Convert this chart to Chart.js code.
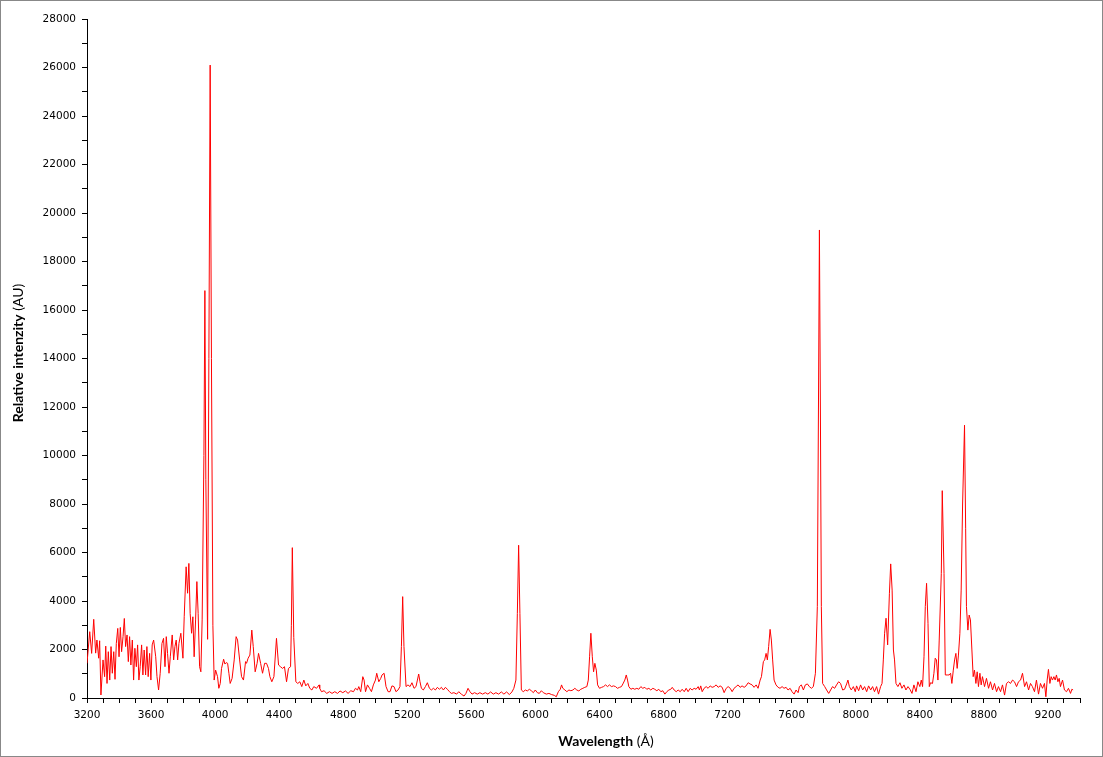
<!DOCTYPE html>
<html>
<head>
<meta charset="utf-8">
<script src="https://cdn.jsdelivr.net/npm/chart.js@4.4.1/dist/chart.umd.min.js"></script>
<style>
  body { margin: 0; background: #fff; }
  #moldura { width: 1103px; height: 757px; box-sizing: border-box; border: 1px solid #888; }
  canvas { display: block; }
</style>
</head>
<body>
<div id="moldura"><canvas id="grafico" width="1101" height="755"></canvas></div>
<script>
const comprimentos = [
  3200,3217,3229,3242,3254,3262,3273,3279,3287,3300,3310,3317,3325,3333,3342,3350,3358,3367,3375,3383,
  3392,3400,3408,3416,3425,3433,3441,3450,3458,3466,3474,3483,3491,3499,3508,3516,3524,3532,3541,3549,
  3557,3566,3574,3582,3591,3599,3607,3616,3629,3637,3647,3657,3668,3678,3687,3695,3703,3712,3720,3732,
  3741,3749,3757,3766,3774,3786,3799,3807,3819,3828,3836,3844,3853,3861,3869,3878,3886,3894,3903,3911,
  3919,3930,3936,3942,3953,3961,3969,3977,3986,3994,4003,4015,4023,4032,4040,4053,4061,4069,4078,4086,
  4094,4106,4119,4131,4140,4153,4165,4177,4190,4196,4206,4217,4229,4238,4250,4262,4271,4284,4296,4309,
  4321,4333,4342,4354,4367,4383,4396,4408,4421,4433,4446,4458,4471,4476,4482,4491,4504,4516,4529,4541,
  4554,4566,4579,4591,4604,4616,4633,4649,4653,4664,4680,4697,4714,4730,4747,4764,4780,4797,4814,4830,
  4847,4864,4876,4889,4897,4909,4922,4930,4939,4951,4964,4976,4988,5001,5009,5022,5034,5042,5055,5067,
  5080,5092,5104,5117,5129,5142,5154,5163,5171,5179,5192,5204,5217,5229,5242,5254,5263,5271,5279,5288,
  5300,5313,5325,5338,5350,5363,5375,5388,5400,5413,5425,5438,5450,5463,5475,5491,5508,5521,5537,5554,
  5566,5579,5591,5604,5620,5637,5653,5670,5687,5703,5720,5737,5753,5770,5787,5803,5820,5837,5853,5865,
  5878,5887,5895,5903,5912,5924,5937,5949,5962,5974,5987,5999,6012,6024,6037,6049,6068,6084,6101,6118,
  6130,6143,6155,6163,6171,6184,6196,6209,6221,6234,6246,6258,6271,6283,6296,6308,6321,6330,6338,6346,
  6355,6363,6371,6380,6388,6400,6413,6425,6438,6450,6462,6475,6487,6500,6512,6525,6537,6546,6558,6567,
  6575,6583,6596,6608,6620,6633,6645,6658,6670,6683,6695,6708,6720,6733,6745,6758,6770,6783,6795,6808,
  6820,6833,6845,6854,6866,6879,6891,6904,6916,6929,6941,6953,6966,6978,6991,7003,7016,7024,7032,7041,
  7053,7066,7078,7091,7103,7116,7128,7141,7153,7166,7178,7191,7203,7216,7228,7240,7253,7265,7278,7290,
  7303,7315,7328,7340,7353,7365,7378,7390,7403,7411,7423,7431,7440,7448,7456,7465,7473,7481,7490,7502,
  7515,7527,7540,7552,7565,7577,7590,7602,7615,7627,7640,7648,7660,7673,7685,7698,7710,7723,7735,7748,
  7760,7767,7773,7779,7785,7793,7806,7818,7831,7843,7855,7868,7880,7893,7905,7918,7930,7943,7951,7960,
  7972,7985,7997,8005,8018,8030,8043,8055,8068,8080,8093,8105,8117,8130,8142,8155,8164,8172,8180,8189,
  8199,8210,8218,8227,8235,8242,8251,8263,8276,8288,8301,8313,8326,8338,8351,8363,8376,8388,8400,8409,
  8417,8426,8434,8442,8451,8459,8467,8479,8488,8496,8504,8513,8521,8534,8540,8551,8559,8571,8583,8592,
  8600,8609,8617,8625,8633,8641,8650,8658,8667,8679,8686,8691,8700,8708,8716,8725,8733,8741,8750,8758,
  8766,8775,8783,8791,8804,8816,8829,8841,8854,8866,8879,8891,8904,8916,8929,8941,8954,8966,8979,8991,
  9004,9016,9029,9041,9054,9066,9079,9091,9103,9116,9128,9141,9153,9166,9178,9187,9195,9203,9212,9220,
  9228,9237,9245,9253,9262,9270,9278,9291,9303,9316,9328,9341,9349,9357
];

// Intensidade relativa (AU) para cada comprimento de onda
const intensidades = [
  1430,2735,1840,3245,1850,2390,1640,2360,124,1570,880,2140,600,1910,740,2120,1020,1910,770,2250,
  2870,1700,2910,1910,2530,3280,2120,2600,1500,2530,1360,2390,740,2050,1290,2190,740,1290,2190,950,
  1980,950,2120,880,1840,740,2190,2390,1700,880,330,1020,2250,2460,1290,2530,1840,1020,1700,2600,
  1570,2120,2390,1570,2250,2670,1640,3350,5410,4320,5550,3490,2670,3350,1700,3220,4800,3490,1290,1080,
  3220,10000,16800,9000,2420,14000,26100,14000,3000,740,1150,880,400,600,1220,1600,1400,1460,1430,1020,
  600,810,1570,2530,2390,1570,880,740,1500,1430,1640,1770,2800,2120,1080,1430,1840,1430,1020,1430,
  1430,1220,880,670,880,2460,1360,1290,1220,1290,670,1220,1290,3000,6200,2500,670,600,670,470,
  740,500,600,400,330,470,400,540,400,260,300,190,260,190,260,190,290,220,290,190,
  300,260,400,330,470,260,880,740,260,540,400,260,540,740,1020,670,810,950,1020,470,
  260,260,500,470,260,330,470,2120,4180,2120,470,540,470,630,400,470,740,990,670,400,
  330,470,630,400,330,400,330,440,360,440,330,440,360,260,190,220,160,260,160,80,
  190,400,260,160,220,160,220,160,220,160,250,160,220,160,250,160,250,140,250,400,
  740,3490,6300,3490,330,260,330,290,360,300,220,330,220,190,300,220,160,190,140,110,
  50,260,360,540,400,330,260,330,300,330,400,330,290,360,400,440,470,740,1700,2670,
  1700,1080,1430,1150,540,400,440,470,540,470,540,470,500,470,400,440,470,580,740,950,
  740,470,360,400,360,400,360,470,400,440,360,400,330,400,360,300,360,260,300,160,
  260,330,360,440,330,260,330,260,360,260,400,260,400,330,400,360,470,330,500,260,
  400,470,400,500,440,470,540,440,500,440,220,400,470,400,260,400,470,540,440,500,
  440,500,630,580,540,440,540,400,740,880,1500,1570,1840,1570,2120,2830,2390,1570,740,540,
  440,400,470,400,440,330,400,260,160,330,220,470,540,330,540,580,470,400,470,1020,
  3770,12000,19300,12000,3770,600,470,330,190,330,470,400,540,670,600,330,360,580,740,470,
  330,470,260,500,300,540,330,470,260,500,330,470,260,470,160,470,600,1570,2670,3290,
  2190,4320,5530,4450,1980,1570,600,470,630,400,540,330,470,360,190,540,260,670,470,740,
  470,1700,3770,4730,3080,470,630,600,1020,1640,1570,740,2390,5140,8550,5140,950,950,950,1020,
  600,1150,1570,1840,1220,1770,2670,4450,8000,11250,7000,3770,2800,3420,3220,1980,880,1150,600,1080,
  470,1020,540,880,470,810,400,670,330,600,260,470,260,540,120,600,670,600,740,670,
  470,670,740,1020,470,670,330,600,470,260,740,160,600,400,600,50,740,1180,600,880,
  740,880,740,950,670,810,470,740,330,260,400,190,360,330
];

// Limites e rótulos dos eixos
const eixoX = { min: 3200, max: 9400, menor: 100, maior: 400 };
const eixoY = { min: 0, max: 28000, menor: 1000, maior: 2000 };
const tituloX = ['Wavelength', ' (Å)'];
const tituloY = ['Relative intenzity', ' (AU)'];

const pontos = comprimentos.map((c, i) => ({ x: c, y: intensidades[i] }));

// Escreve um título com parte em negrito e parte normal, centrado em (cx, cy)
function escreverTitulo(ctx, partes, cx, cy) {
  ctx.font = 'bold 14px Lato';
  const w1 = ctx.measureText(partes[0]).width;
  ctx.font = '14px Lato';
  const w2 = ctx.measureText(partes[1]).width;
  const x = cx - (w1 + w2) / 2;
  ctx.textAlign = 'left';
  ctx.textBaseline = 'middle';
  ctx.font = 'bold 14px Lato';
  ctx.fillText(partes[0], x, cy);
  ctx.font = '14px Lato';
  ctx.fillText(partes[1], x + w1, cy);
}

// Plugin para os títulos dos eixos
const titulosEixos = {
  id: 'titulosEixos',
  afterDraw(chart) {
    const ctx = chart.ctx;
    ctx.save();
    ctx.fillStyle = '#000';
    escreverTitulo(ctx, tituloX, 605, 740);
    ctx.translate(17, 352);
    ctx.rotate(-Math.PI / 2);
    escreverTitulo(ctx, tituloY, 0, 0);
    ctx.restore();
  }
};

Chart.defaults.color = '#000';
Chart.defaults.font.family = 'DejaVu Sans';
Chart.defaults.font.size = 10.5;

const ctx = document.getElementById('grafico').getContext('2d');
new Chart(ctx, {
  type: 'line',
  data: {
    datasets: [{
      data: pontos,
      borderColor: '#ff0000',
      borderWidth: 1,
      pointRadius: 0,
      tension: 0,
      fill: false
    }]
  },
  options: {
    responsive: false,
    animation: false,
    parsing: true,
    layout: { padding: { top: 18, right: 22, left: 0, bottom: 0 } },
    plugins: { legend: { display: false }, tooltip: { enabled: false } },
    scales: {
      x: {
        type: 'linear',
        min: eixoX.min,
        max: eixoX.max,
        afterFit: (s) => { s.height = 58; },
        border: { color: '#000', width: 1 },
        grid: { drawOnChartArea: false, tickLength: 5, color: '#000' },
        ticks: {
          stepSize: eixoX.menor,
          autoSkip: false,
          maxRotation: 0,
          padding: 6,
          callback: (v) => (v % eixoX.maior === 0 ? String(v) : '')
        }
      },
      y: {
        min: eixoY.min,
        max: eixoY.max,
        afterFit: (s) => { s.width = 86; },
        border: { color: '#000', width: 1 },
        grid: { drawOnChartArea: false, tickLength: 5, color: '#000' },
        ticks: {
          stepSize: eixoY.menor,
          autoSkip: false,
          padding: 6,
          callback: (v) => (v % eixoY.maior === 0 ? String(v) : '')
        }
      }
    }
  },
  plugins: [titulosEixos]
});
</script>
</body>
</html>
